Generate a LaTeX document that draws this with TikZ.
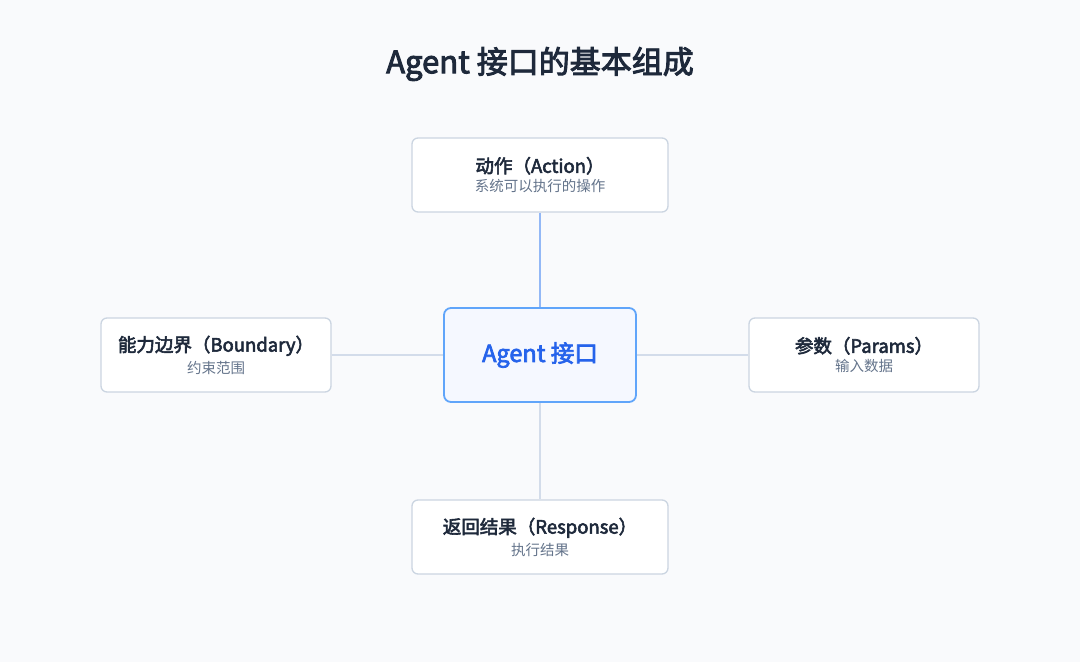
\documentclass[tikz,border=0pt]{standalone}
\usepackage{fontspec}
\setmainfont{Noto Sans CJK SC}[BoldFont={Noto Sans CJK SC}, BoldFeatures={FakeBold=3}]
\usepackage{xcolor}
\usetikzlibrary{calc,positioning}
\definecolor{bg}{HTML}{F9FAFC}
\definecolor{ink}{HTML}{1E293B}
\definecolor{muted}{HTML}{64748B}
\definecolor{edge}{HTML}{CBD5E1}
\definecolor{link}{HTML}{D3DCEA}
\definecolor{accent}{HTML}{2563EB}
\definecolor{accentline}{HTML}{60A5FA}
\definecolor{accentfill}{HTML}{F5F8FF}
\definecolor{linkblue}{HTML}{93B8F6}
\tikzset{
  card/.style={draw=edge, fill=white, line width=1.3pt, rounded corners=6pt,
    minimum height=74pt, align=center, inner sep=0pt},
  core/.style={draw=accentline, fill=accentfill, line width=1.8pt, rounded corners=7pt,
    minimum width=192pt, minimum height=94pt, text=accent,
    font=\fontsize{23.5}{27}\selectfont\bfseries},
  wire/.style={draw=link, line width=1.3pt},
  wireb/.style={draw=linkblue, line width=1.5pt},
  head/.style={text=ink, font=\fontsize{31}{35}\selectfont\bfseries},
}
\newcommand{\cardtitle}[1]{{\color{ink}\fontsize{18.5}{21}\selectfont\bfseries #1}}
\newcommand{\cardsub}[1]{{\color{muted}\fontsize{14.5}{17}\selectfont #1}}

\begin{document}
\begin{tikzpicture}[x=1pt,y=-1pt]
  \fill[bg] (0,0) rectangle (1080,662);
  \useasboundingbox (0,0) rectangle (1080,662);

  \node[head] (title) at (540,64) {Agent 接口的基本组成};

  \node[core] (agent) at (540,355) {Agent 接口};

  \node[card, minimum width=256pt] (action) at (540,175)
    {\cardtitle{动作（Action）}\\[4pt]\cardsub{系统可以执行的操作}};
  \node[card, minimum width=230pt] (bound) at (216,355)
    {\cardtitle{能力边界（Boundary）}\\[4pt]\cardsub{约束范围}};
  \node[card, minimum width=230pt] (params) at (864,355)
    {\cardtitle{参数（Params）}\\[4pt]\cardsub{输入数据}};
  \node[card, minimum width=256pt] (resp) at (540,537)
    {\cardtitle{返回结果（Response）}\\[4pt]\cardsub{执行结果}};

  \draw[wireb] (action.south) -- (agent.north);
  \draw[wire] (bound.east) -- (agent.west);
  \draw[wire] (agent.east) -- (params.west);
  \draw[wire] (agent.south) -- (resp.north);
\end{tikzpicture}
\end{document}
